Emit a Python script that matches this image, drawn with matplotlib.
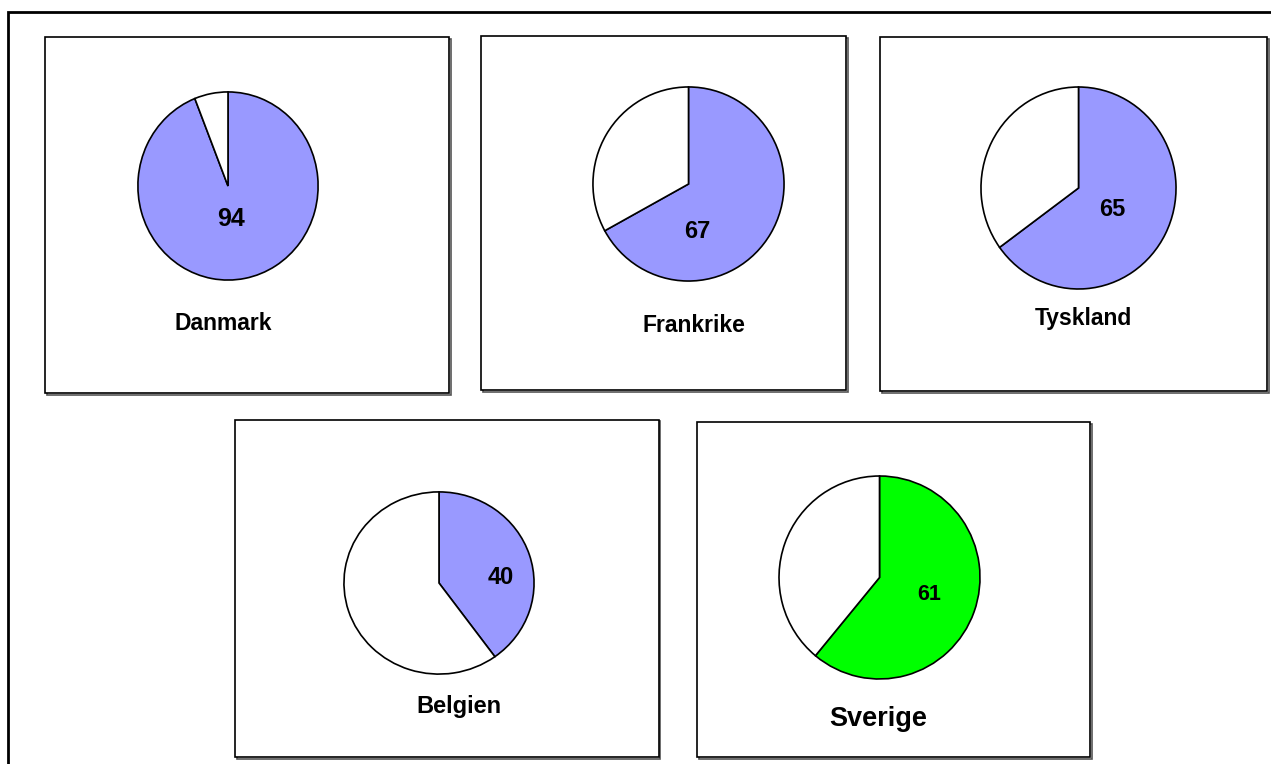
import matplotlib
matplotlib.use("Agg")
import matplotlib.pyplot as plt
from matplotlib.patches import Rectangle

plt.rcParams['font.family'] = ['Liberation Sans', 'DejaVu Sans']

# data
countries = ["Danmark", "Frankrike", "Tyskland", "Belgien", "Sverige"]
shares = [94, 67, 65, 40, 61]
fill_colors = ["#9999FF", "#9999FF", "#9999FF", "#9999FF", "#00FF00"]

# layout in pixels (x0, y0, x1, y1) measured from the top left
W, H = 1271, 764
boxes = [(45, 37, 449, 393), (481, 36, 846, 390), (880, 37, 1267, 391),
         (235, 420, 659, 757), (697, 422, 1090, 757)]
pie_geo = [(228, 186, 91, 95), (688.5, 184, 96.5, 98), (1078.5, 188, 98.5, 102),
           (439, 583, 96, 92), (879.5, 577.5, 101.5, 102.5)]
value_pos = [(231, 219), (697, 232), (1112, 209), (501, 577), (929, 594)]
name_pos = [(223, 323), (694, 325), (1083, 318), (459, 707), (878, 719)]
name_sizes = [16.5, 16.5, 16.5, 17, 19.5]
value_sizes = [18, 17, 17, 17, 15.5]


def fx(x):
    return x / W


def fy(y):
    return 1 - y / H


fig = plt.figure(figsize=(W / 100, H / 100), dpi=100)

# outer frame
fig.add_artist(Rectangle((fx(8), fy(800)), fx(1300) - fx(8), fy(12) - fy(800),
                         transform=fig.transFigure, fill=False, lw=2, ec="black"))

for i, name in enumerate(countries):
    x0, y0, x1, y1 = boxes[i]
    # small shadow on right / bottom
    fig.add_artist(Rectangle((fx(x0 + 1.5), fy(y1 + 1.5)), fx(x1) - fx(x0), fy(y0) - fy(y1),
                             transform=fig.transFigure, fill=False, lw=1.2, ec="#555555",
                             zorder=-2))
    fig.add_artist(Rectangle((fx(x0), fy(y1)), fx(x1) - fx(x0), fy(y0) - fy(y1),
                             transform=fig.transFigure, fc="white", lw=1.2, ec="black",
                             zorder=-1))

    cx, cy, rx, ry = pie_geo[i]
    ax = fig.add_axes([fx(cx - rx), fy(cy + ry), 2 * rx / W, 2 * ry / H])
    ax.patch.set_visible(False)
    ax.pie([shares[i], 100 - shares[i]], colors=[fill_colors[i], "white"],
           startangle=90, counterclock=False, radius=1,
           wedgeprops=dict(edgecolor="black", linewidth=1.2))
    ax.set_aspect('auto')
    ax.set_xlim(-1.01, 1.01)
    ax.set_ylim(-1.01, 1.01)
    ax.axis('off')

    vx, vy = value_pos[i]
    fig.text(fx(vx), fy(vy), str(shares[i]), ha="center", va="center",
             fontsize=value_sizes[i], fontweight="bold", zorder=5)
    nx, ny = name_pos[i]
    fig.text(fx(nx), fy(ny), name, ha="center", va="center",
             fontsize=name_sizes[i], fontweight="bold", zorder=5)

fig.savefig("out.png", dpi=100)
